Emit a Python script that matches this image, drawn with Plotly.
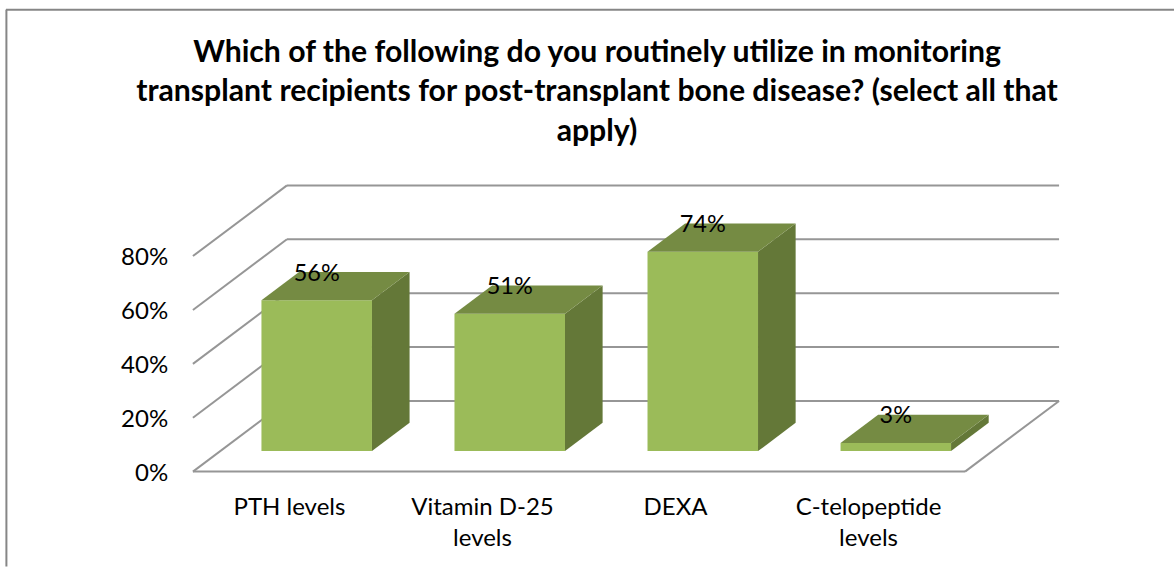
import plotly.graph_objects as go

TITLE = ("Which of the following do you routinely utilize in monitoring<br>"
         "transplant recipients for post-transplant bone disease? (select all that<br>"
         "apply)")
categories = ["PTH levels", "Vitamin D-25<br>levels", "DEXA", "C-telopeptide<br>levels"]
values = [56, 51, 74, 3]
tick_vals = [0, 20, 40, 60, 80]

# Scale of the drawing
PX_X, PX_Y = 193, 2.7                       # pixels per category, pixels per percent
ORIGIN_X, ORIGIN_Y = 193, 471.8             # pixel position of the front-left floor corner

# Oblique projection, in axis units
FLOOR_DX, FLOOR_DY = 94 / PX_X, 70.8 / PX_Y  # depth vector of the whole floor
BAR_START = 0.29                            # bars start this far into the floor
BAR_DEPTH = 0.40                            # share of the floor depth each bar takes
BAR_WIDTH = 110.5 / PX_X
X_PAD, Y_PAD = 0.01, 2                      # slack so lines on the frame edge are not clipped

FRONT, TOP, SIDE = "#9BBB59", "#758B43", "#647838"
GRID = "#969696"
BORDER = "#868686"
FONT = "Lato"
TICK_FONT = 24
LABEL_FONT = 23.5

W, H = 1174, 567

x_min, x_max = -X_PAD, 4 + FLOOR_DX + X_PAD
y_min, y_max = -Y_PAD, 80 + FLOOR_DY + Y_PAD
L = ORIGIN_X + x_min * PX_X
R = W - (ORIGIN_X + x_max * PX_X)
B = H - (ORIGIN_Y - y_min * PX_Y)
T = ORIGIN_Y - y_max * PX_Y

fig = go.Figure()

# walls and floor, under every trace
grid_style = dict(type="line", xref="x", yref="y", layer="below", line=dict(color=GRID, width=2))
shapes = []
for v in tick_vals:
    shapes.append(dict(grid_style, x0=0, y0=v, x1=FLOOR_DX, y1=v + FLOOR_DY))
    shapes.append(dict(grid_style, x0=FLOOR_DX, y0=v + FLOOR_DY, x1=4 + FLOOR_DX, y1=v + FLOOR_DY))
shapes.append(dict(grid_style, x0=0, y0=0, x1=4, y1=0))
shapes.append(dict(grid_style, x0=4, y0=0, x1=4 + FLOOR_DX, y1=FLOOR_DY))

ox, oy = BAR_START * FLOOR_DX, BAR_START * FLOOR_DY
dx, dy = BAR_DEPTH * FLOOR_DX, BAR_DEPTH * FLOOR_DY

centers = [i + 0.5 + ox for i in range(len(values))]

# front faces
fig.add_trace(go.Bar(x=centers, y=values, base=oy, width=BAR_WIDTH,
                     marker=dict(color=FRONT, line=dict(width=0)), showlegend=False))

# side and top faces
for c, v in zip(centers, values):
    xl, xr = c - BAR_WIDTH / 2, c + BAR_WIDTH / 2
    y0, y1 = oy, oy + v
    fig.add_trace(go.Scatter(x=[xr, xr + dx, xr + dx, xr, xr], y=[y0, y0 + dy, y1 + dy, y1, y0],
                             mode="lines", fill="toself", fillcolor=SIDE, line=dict(width=0),
                             cliponaxis=False, hoverinfo="skip", showlegend=False))
    fig.add_trace(go.Scatter(x=[xl, xr, xr + dx, xl + dx, xl], y=[y1, y1, y1 + dy, y1 + dy, y1],
                             mode="lines", fill="toself", fillcolor=TOP, line=dict(width=0),
                             cliponaxis=False, hoverinfo="skip", showlegend=False))

# data labels
fig.add_trace(go.Scatter(x=centers, y=[v + oy + dy - 1 for v in values], mode="text",
                         text=[f"{v}%" for v in values], textposition="middle center",
                         textfont=dict(family=FONT, size=LABEL_FONT, color="#000000"),
                         cliponaxis=False, hoverinfo="skip", showlegend=False))

# chart frame
fx = lambda px: (px - L) / (W - L - R)
fy = lambda py: (H - B - py) / (H - T - B)
shapes += [
    dict(type="line", xref="paper", yref="paper", x0=fx(6.5), x1=fx(6.5), y0=fy(9), y1=fy(H),
         line=dict(color=BORDER, width=2)),
    dict(type="line", xref="paper", yref="paper", x0=fx(6), x1=fx(W), y0=fy(9), y1=fy(9),
         line=dict(color=BORDER, width=2)),
]

fig.update_layout(
    width=W, height=H, autosize=False,
    margin=dict(l=L, r=R, t=T, b=B, pad=0),
    paper_bgcolor="white", plot_bgcolor="rgba(0,0,0,0)",
    font=dict(family=FONT, color="#000000"),
    title=dict(text=TITLE, xref="container", yref="container", x=597 / W, xanchor="center",
               y=1 - 62 / H, yanchor="top",
               font=dict(family=FONT, size=30.2, color="#000000", weight="bold")),
    xaxis=dict(range=[x_min, x_max], tickvals=[i + 0.5 for i in range(4)], ticktext=categories,
               showgrid=False, zeroline=False, showline=False, ticks="outside", ticklen=8,
               tickcolor="rgba(0,0,0,0)", tickfont=dict(family=FONT, size=TICK_FONT)),
    yaxis=dict(range=[y_min, y_max], tickvals=tick_vals, ticktext=[f"{v}%" for v in tick_vals],
               showgrid=False, zeroline=False, showline=False, ticks="outside", ticklen=17,
               ticklabelshift=1,
               tickcolor="rgba(0,0,0,0)", tickfont=dict(family=FONT, size=TICK_FONT)),
    shapes=shapes,
)

fig.write_html("out.html", config=dict(displayModeBar=False),
               post_script="document.body.style.margin='0';document.documentElement.style.overflow='hidden';")
